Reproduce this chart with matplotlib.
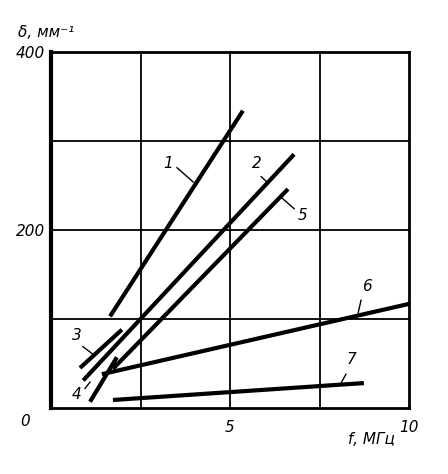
import matplotlib
matplotlib.use("Agg")
import matplotlib.pyplot as plt

# curve end points: frequency f (MHz) vs damping (1/mm)
f1 = [1.65, 5.36]
d1 = [103, 334]
f2 = [0.90, 6.79]
d2 = [31, 285]
f3 = [0.81, 1.98]
d3 = [45, 88]
f4 = [1.09, 1.84]
d4 = [7, 57]
f5 = [1.73, 6.62]
d5 = [44, 246]
f6 = [1.42, 10.0]
d6 = [38, 117]
f7 = [1.73, 8.74]
d7 = [9, 28]

curve_f = [f1, f2, f3, f4, f5, f6, f7]
curve_d = [d1, d2, d3, d4, d5, d6, d7]
curve_names = ["1", "2", "3", "4", "5", "6", "7"]

# label text position, leader start, and the point on the curve the leader touches
label_xy = [(3.27, 275), (5.75, 275), (0.72, 82), (0.72, 15), (7.04, 216), (8.83, 137), (8.38, 54)]
leader_from = [(3.52, 270), (5.87, 260), (0.89, 69), (0.95, 22), (6.79, 224), (8.66, 121), (8.24, 38)]
leader_to = [(3.97, 254), (6.03, 254), (1.15, 61), (1.09, 29), (6.45, 236), (8.58, 107), (8.10, 28)]

x_ticks = [5, 10]
y_ticks = [200, 400]

fig = plt.figure(figsize=(4.48, 4.74), dpi=100)
ax = fig.add_axes([51 / 448, 1 - 408 / 474, 358 / 448, 356 / 474])

ax.set_xlim(0, 10)
ax.set_ylim(0, 400)

# grid every 2.5 MHz and 100 1/mm
for gx in [2.5, 5, 7.5]:
    ax.axvline(gx, color="black", lw=1.3, zorder=1)
for gy in [100, 200, 300]:
    ax.axhline(gy, color="black", lw=1.3, zorder=1)

for f, d in zip(curve_f, curve_d):
    ax.plot(f, d, color="black", lw=3.0, solid_capstyle="butt", zorder=3)

for name, lxy, a, b in zip(curve_names, label_xy, leader_from, leader_to):
    ax.text(lxy[0], lxy[1], name, ha="center", va="center", fontsize=11, style="italic")
    ax.plot([a[0], b[0]], [a[1], b[1]], color="black", lw=1.0, zorder=2)

for side, s in ax.spines.items():
    s.set_linewidth(2.0)
ax.spines["left"].set_linewidth(3.0)

ax.set_xticks(x_ticks)
ax.set_xticklabels([str(v) for v in x_ticks], fontsize=11, style="italic")
ax.set_yticks(y_ticks)
ax.set_yticklabels([str(v) for v in y_ticks], fontsize=11, style="italic")
ax.tick_params(axis="x", length=0, pad=9)
ax.tick_params(axis="y", length=0, pad=4)

ax.text(-0.73, -15, "0", ha="center", va="center", fontsize=11, style="italic", clip_on=False)
ax.text(-0.92, 422, "δ, мм⁻¹", ha="left", va="center", fontsize=11, style="italic", clip_on=False)
ax.text(9.6, -35, "f, МГц", ha="right", va="center", fontsize=11, style="italic", clip_on=False)

fig.savefig("out.png", dpi=100)
